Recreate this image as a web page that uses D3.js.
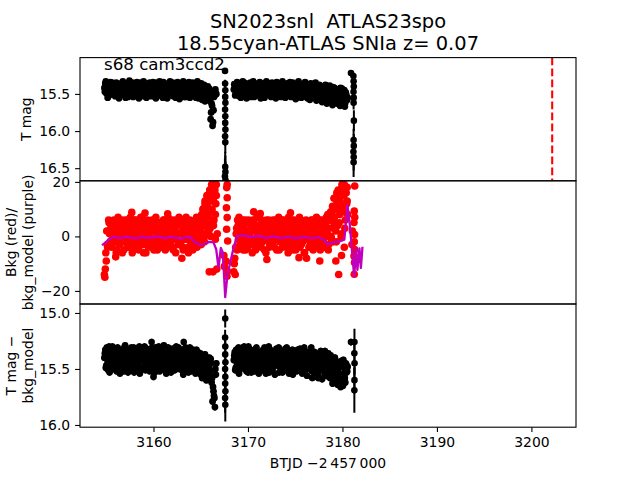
<!DOCTYPE html>
<html><head><meta charset="utf-8">
<script src="https://cdn.jsdelivr.net/npm/d3@7"></script>
<style>body{margin:0;background:#fff} text{font-family:"DejaVu Sans",sans-serif;fill:#000}</style>
</head><body><svg id="c" width="640" height="480" xmlns="http://www.w3.org/2000/svg"></svg>
<script>
// ---------------- DATA ----------------
const CADENCE = 0.1;               // days between samples in each array
const seg1Start = 3154.8;          // BTJD-2457000, first orbit
const seg2Start = 3168.5;          // second orbit
const HALF = 0.05;                 // the "b" arrays are sampled half a step later

// T mag, orbit 1 and 2
const tmagSeg1 = [
15.42,15.36,15.49,15.45,15.38,15.52,15.40,15.47,15.35,15.44,
15.50,15.39,15.46,15.41,15.53,15.37,15.48,15.43,15.36,15.51,
15.40,15.45,15.38,15.49,15.42,15.54,15.37,15.46,15.41,15.50,
15.35,15.44,15.48,15.39,15.52,15.43,15.37,15.47,15.41,15.50,
15.36,15.45,15.53,15.40,15.48,15.38,15.44,15.51,15.35,15.46,
15.42,15.49,15.37,15.53,15.41,15.46,15.39,15.50,15.43,15.36,
15.48,15.40,15.55,15.44,15.38,15.47,15.42,15.51,15.36,15.45,
15.49,15.39,15.46,15.53,15.41,15.37,15.48,15.43,15.52,15.40,
15.45,15.36,15.50,15.42,15.47,15.39,15.54,15.44,15.38,15.49,
15.41,15.46,15.36,15.52,15.43,15.48,15.40,15.55,15.45,15.38,
15.50,15.42,15.47,15.39,15.56,15.44,15.49,15.41,15.57,15.46,
15.52,15.43,15.60,15.75,15.66,15.88,15.54,15.46,15.50];
const tmagSeg1b = [
15.47,15.33,15.41,15.55,15.39,15.44,15.34,15.50,15.42,15.37,
15.45,15.53,15.35,15.48,15.40,15.56,15.43,15.38,15.51,15.33,
15.46,15.41,15.55,15.36,15.49,15.44,15.32,15.52,15.39,15.45,
15.54,15.37,15.42,15.49,15.34,15.46,15.56,15.40,15.35,15.47,
15.43,15.33,15.50,15.38,15.55,15.42,15.36,15.48,15.44,15.53,
15.38,15.34,15.46,15.41,15.56,15.35,15.52,15.45,15.33,15.48,
15.39,15.54,15.34,15.43,15.50,15.37,15.56,15.40,15.46,15.33,
15.52,15.44,15.35,15.49,15.38,15.55,15.42,15.34,15.47,15.57,
15.36,15.51,15.40,15.33,15.54,15.45,15.38,15.50,15.43,15.34,
15.55,15.39,15.48,15.35,15.44,15.52,15.37,15.46,15.33,15.56,
15.41,15.54,15.36,15.58,15.45,15.38,15.60,15.43,15.52,15.40,
15.55,15.47,15.84,15.63,15.93,15.72,15.52,15.44,15.50];
const tmagSeg2 = [
15.44,15.38,15.50,15.41,15.47,15.36,15.53,15.43,15.39,15.48,
15.45,15.35,15.51,15.42,15.46,15.38,15.49,15.44,15.54,15.40,
15.37,15.47,15.42,15.52,15.39,15.45,15.36,15.50,15.43,15.48,
15.41,15.53,15.38,15.46,15.44,15.35,15.49,15.42,15.51,15.37,
15.47,15.40,15.45,15.52,15.38,15.43,15.50,15.36,15.48,15.41,
15.54,15.44,15.39,15.47,15.42,15.51,15.37,15.46,15.40,15.49,
15.43,15.36,15.52,15.45,15.41,15.48,15.38,15.55,15.44,15.40,
15.50,15.42,15.46,15.37,15.53,15.43,15.48,15.39,15.56,15.45,
15.41,15.51,15.38,15.47,15.44,15.54,15.40,15.49,15.43,15.57,
15.46,15.39,15.52,15.42,15.58,15.45,15.50,15.38,15.55,15.47,
15.60,15.43,15.53,15.49,15.58,15.41,15.62,15.47,15.56,15.44,
15.61,15.50,15.59,15.42,15.64,15.48,15.57,15.45,15.62,15.51,
15.58];
const tmagSeg2b = [
15.37,15.52,15.43,15.34,15.49,15.45,15.38,15.55,15.41,15.33,
15.50,15.42,15.36,15.56,15.47,15.39,15.53,15.35,15.44,15.48,
15.33,15.54,15.40,15.46,15.37,15.51,15.43,15.34,15.56,15.41,
15.49,15.36,15.55,15.42,15.33,15.50,15.45,15.38,15.47,15.54,
15.35,15.44,15.52,15.39,15.56,15.34,15.47,15.42,15.53,15.37,
15.45,15.33,15.50,15.38,15.55,15.43,15.36,15.52,15.46,15.34,
15.54,15.41,15.35,15.49,15.44,15.57,15.39,15.46,15.33,15.51,
15.40,15.55,15.37,15.48,15.43,15.34,15.53,15.45,15.38,15.50,
15.58,15.36,15.46,15.55,15.40,15.48,15.35,15.59,15.44,15.51,
15.38,15.56,15.45,15.61,15.42,15.50,15.57,15.40,15.63,15.47,
15.53,15.39,15.60,15.46,15.65,15.52,15.42,15.58,15.49,15.63,
15.45,15.56,15.66,15.50,15.43,15.60,15.54,15.67,15.48,15.58,
15.55];
const tmagErr = 0.03;
// short noisy stretches (orbit edges)
const streakT = [3167.57,3167.58,3167.60,3167.59,3167.61,3167.58,3167.60,3167.59,3167.61,3167.58,3167.60,3167.59,3167.61,3167.56,3167.62,
                 3180.90,3181.16,3181.18,3181.20,3181.17,3181.19,3181.18,3181.21,3181.18,3181.20,3181.16,3181.19,3181.18];
const streakMag = [15.19,15.36,15.45,15.54,15.62,15.71,15.80,15.89,15.98,16.07,16.15,16.48,16.55,16.61,16.66,
                   15.22,15.26,15.33,15.40,15.47,15.55,15.62,15.86,16.12,16.20,16.28,16.35,16.42];
const streakErr = [0.04,0.05,0.06,0.07,0.08,0.09,0.10,0.11,0.12,0.13,0.15,0.20,0.22,0.24,0.25,
                   0.04,0.05,0.06,0.06,0.07,0.08,0.09,0.14,0.15,0.16,0.17,0.18,0.20];

// Background flux (red)
const bkgSeg1 = [
-14,-12,-9,-3,2,5,-2,4,-4,3,
6,-1,1,-5,4,0,-3,5,2,-6,
3,-2,6,0,-4,2,5,-1,-3,4,
1,-5,6,-2,3,0,-4,5,-1,2,
7,-3,1,4,-6,3,-1,5,0,-2,
4,-4,2,6,-1,3,-5,1,5,-2,
0,4,-3,6,2,-1,3,-4,5,1,
-2,6,0,-5,3,2,-1,4,-3,7,
1,-2,5,-4,3,0,6,-1,2,-6,
4,1,-3,5,0,3,-2,6,-4,2,
5,-1,3,8,1,6,-2,9,4,11,
7,14,3,16,10,18,6,17,12];
const bkgSeg1b = [
-15,-6,2,-4,6,1,-3,5,-1,3,
-2,5,-6,2,7,-3,4,-1,6,0,
-5,4,1,-2,6,-4,3,7,-1,-6,
5,2,-3,6,-1,4,-5,1,7,-2,
3,-6,5,0,-2,6,-4,2,4,-1,
6,-2,-5,3,7,0,-3,5,-1,4,
-4,2,6,-2,-5,4,1,7,-3,3,
5,-1,-4,2,6,-6,4,1,-2,5,
-3,6,2,-5,4,-1,7,0,-4,3,
6,-2,3,-5,5,1,-3,7,0,-1,
3,7,-3,5,10,0,12,4,8,14,
2,16,9,19,5,13,18,-1,15];
const bkgSeg2 = [
-13,-8,-4,3,6,-1,4,-3,5,1,
-5,3,6,-2,2,-4,5,0,-1,4,
6,-3,2,-5,4,1,-2,7,0,-4,
3,5,-1,2,-6,4,0,6,-3,1,
5,-2,3,-4,6,1,-1,4,-5,2,
0,6,-3,3,-1,5,-4,2,7,-2,
4,0,-5,3,6,-1,2,-3,5,1,
-4,6,2,-2,4,-6,3,0,5,-1,
2,-3,6,1,-5,4,-1,3,0,5,
-2,6,-4,2,4,-1,5,-3,7,1,
-5,3,6,0,8,-2,5,10,2,12,
4,15,8,17,1,18,11,19,6,16,
13];
const bkgSeg2b = [
-10,-14,1,-5,4,7,-2,3,-4,6,
2,-1,-5,5,-3,6,1,-2,4,-6,
3,5,-1,-4,7,0,4,-3,2,6,
-2,1,-5,4,6,-1,3,-4,5,0,
-3,6,2,-1,5,-5,3,7,-2,1,
4,-4,6,0,-2,5,2,-6,3,4,
-1,6,-3,2,5,-5,4,1,-2,7,
0,-3,5,3,-6,2,6,-1,4,-4,
5,1,-2,6,-4,3,0,7,-3,2,
4,-5,1,6,-2,3,-4,5,0,8,
-3,6,9,-1,11,3,7,14,-2,10,
17,5,13,0,19,9,15,3,18,12,
8];
const bkgExtraT = [3165.05,3165.25,3165.45,3165.55,3165.65,3165.75,3165.85,3165.95,3166.05,3166.15,3166.25,3166.35,3166.45,3166.55,3166.65,3166.75,3166.30,3165.90,3166.70,
                   3167.80,3167.75,3167.80,3167.72,3167.80,3167.74,3167.85,3167.70,3167.82,3167.78,3167.45,3167.50,
                   3179.60,3179.30,3179.90,3180.20,3179.10,3179.40,3179.80,3180.00,3180.30,3180.50,
                   3181.30,3181.25,3181.30,3181.22,3181.28,3181.25,3181.30,3181.22,3181.28,3181.25,3181.00,3181.05,
                   3156.00,3159.10,3163.00,3161.50,3157.70,3170.60,3172.00,3174.50,3176.20,3177.60,3171.30,3175.40];
const bkgExtraV = [7,10,13,5,15,2,9,17,0,13,19,4,15,8,19,1,-13,-13,-12,
                   19,17.9,14.2,10.5,6.9,2.6,-1.7,-9.1,-12.7,-14.6,-7,-11,
                   -14,-9,-7,-4,14,16,12,19,9,18,
                   18.5,9.3,7,5.1,0.7,-2,-4.8,-7.2,-9.6,-13.9,-3,2,
                   -7.5,8.6,-8,8.3,8.8,9,-8.5,8.7,-8,-9,8.4,-7.8];
// Background model (purple)
const modelT = [3154.54,3154.90,3155.24,3155.77,3156.50,3157.20,3158.00,3158.80,3159.60,3160.40,3161.20,3162.00,3162.80,3163.50,3163.88,
                3164.23,3164.94,3165.47,3165.90,3166.35,3166.64,3166.88,3167.13,3167.34,3167.59,3167.83,3168.40,3168.82,3169.52,
                3170.30,3171.10,3171.90,3172.70,3173.50,3174.30,3175.10,3175.90,3176.70,3177.40,3177.99,3178.41,3179.00,3179.76,
                3180.20,3180.53,3180.81,3181.24,3181.45,3181.58,3181.80,3181.95,3182.12];
const modelV = [-3.2,-2.4,-1.1,-0.2,-0.6,-0.1,-0.7,-0.2,-0.5,0.0,-0.6,-0.2,-0.8,-0.3,-0.2,
                -1.7,-3.2,-2.7,-2.0,-2.2,-4.8,-11.5,-4.2,-6.0,-22.3,-14.0,-5.4,0.1,0.5,
                -0.3,0.2,-0.5,0.0,-0.6,-0.1,-0.7,-0.2,-0.6,-0.3,-1.1,-2.9,-2.2,-1.7,
                -1.2,11.5,3.2,-14.8,-4.4,-12.3,-4.4,-11.6,-3.8];

// T mag - bkg_model
const corrSeg1 = [
15.40,15.33,15.47,15.38,15.51,15.30,15.44,15.36,15.49,15.42,
15.34,15.46,15.39,15.52,15.31,15.43,15.48,15.35,15.41,15.50,
15.37,15.45,15.29,15.47,15.40,15.53,15.33,15.44,15.38,15.49,
15.42,15.31,15.46,15.36,15.51,15.39,15.44,15.30,15.48,15.41,
15.35,15.50,15.43,15.37,15.47,15.32,15.45,15.40,15.52,15.34,
15.46,15.39,15.57,15.42,15.31,15.49,15.36,15.44,15.38,15.51,
15.33,15.47,15.41,15.29,15.45,15.50,15.37,15.43,15.35,15.48,
15.40,15.52,15.32,15.46,15.39,15.44,15.30,15.49,15.42,15.36,
15.47,15.34,15.51,15.41,15.38,15.45,15.31,15.48,15.43,15.53,
15.37,15.44,15.40,15.50,15.33,15.46,15.39,15.52,15.42,15.35,
15.48,15.41,15.55,15.38,15.46,15.57,15.43,15.51,15.60,15.45,
15.47,15.40,15.52,15.45,15.58,15.66,15.74,15.84,15.55];
const corrSeg1b = [
15.36,15.49,15.31,15.44,15.41,15.53,15.35,15.46,15.30,15.39,
15.50,15.37,15.43,15.32,15.47,15.40,15.54,15.33,15.45,15.38,
15.52,15.30,15.42,15.35,15.48,15.37,15.50,15.41,15.31,15.46,
15.34,15.53,15.39,15.45,15.32,15.48,15.36,15.54,15.40,15.33,
15.49,15.42,15.30,15.51,15.38,15.46,15.34,15.43,15.36,15.50,
15.31,15.44,15.39,15.53,15.35,15.47,15.41,15.30,15.52,15.37,
15.45,15.34,15.50,15.40,15.36,15.54,15.42,15.31,15.47,15.39,
15.53,15.33,15.45,15.38,15.51,15.35,15.48,15.42,15.31,15.50,
15.39,15.46,15.33,15.55,15.36,15.43,15.50,15.34,15.41,15.47,
15.31,15.52,15.45,15.36,15.48,15.40,15.54,15.33,15.47,15.42,
15.53,15.36,15.45,15.58,15.41,15.50,15.37,15.56,15.44,15.52,
15.48,15.56,15.41,15.62,15.79,15.70,15.76,15.50,15.45];
const corrSeg2 = [
15.42,15.35,15.49,15.38,15.45,15.31,15.51,15.40,15.34,15.47,
15.43,15.30,15.50,15.37,15.44,15.53,15.39,15.46,15.33,15.48,
15.41,15.36,15.52,15.44,15.31,15.47,15.39,15.50,15.35,15.42,
15.48,15.33,15.45,15.40,15.54,15.37,15.43,15.30,15.49,15.41,
15.36,15.51,15.44,15.39,15.47,15.32,15.46,15.42,15.53,15.38,
15.45,15.34,15.50,15.41,15.37,15.48,15.31,15.44,15.40,15.52,
15.39,15.46,15.33,15.49,15.42,15.36,15.51,15.43,15.38,15.47,
15.32,15.45,15.40,15.53,15.37,15.48,15.41,15.35,15.50,15.44,
15.39,15.46,15.31,15.52,15.42,15.57,15.37,15.49,15.43,15.55,
15.40,15.47,15.34,15.51,15.44,15.38,15.56,15.45,15.41,15.53,
15.36,15.49,15.58,15.43,15.52,15.47,15.61,15.40,15.55,15.50,
15.64,15.44,15.57,15.66,15.48,15.60,15.42,15.54,15.62,15.46,
15.52];
const corrSeg2b = [
15.38,15.51,15.33,15.46,15.41,15.54,15.36,15.44,15.49,15.31,
15.47,15.39,15.35,15.52,15.42,15.30,15.48,15.37,15.53,15.40,
15.34,15.50,15.45,15.32,15.49,15.38,15.54,15.43,15.36,15.51,
15.39,15.46,15.31,15.52,15.35,15.47,15.41,15.53,15.33,15.44,
15.50,15.37,15.42,15.55,15.34,15.45,15.39,15.31,15.48,15.43,
15.36,15.53,15.40,15.47,15.32,15.51,15.44,15.38,15.54,15.35,
15.48,15.41,15.55,15.34,15.45,15.39,15.52,15.33,15.46,15.42,
15.50,15.37,15.54,15.43,15.31,15.47,15.40,15.56,15.36,15.49,
15.44,15.33,15.51,15.38,15.47,15.35,15.53,15.45,15.40,15.58,
15.36,15.50,15.44,15.59,15.39,15.48,15.34,15.55,15.46,15.41,
15.57,15.45,15.38,15.52,15.63,15.42,15.49,15.56,15.44,15.60,
15.51,15.47,15.62,15.43,15.55,15.65,15.49,15.58,15.45,15.53,
15.48];
const corrErr = 0.03;
const corrStreakT = [3167.59,3167.58,3167.60,3167.59,3167.61,3167.58,3167.60,3167.59,3167.61,3167.58,3167.60,
                     3180.90,3181.27,3181.26,3181.28,3181.27,3181.26,
                     3163.20,3159.80,3176.80];
const corrStreakMag = [15.05,15.22,15.30,15.37,15.44,15.50,15.57,15.63,15.70,15.76,15.82,
                       15.26,15.26,15.36,15.45,15.60,15.69,
                       15.26,15.26,15.58];
const corrStreakErr = [0.08,0.07,0.07,0.08,0.08,0.09,0.10,0.11,0.12,0.13,0.15,
                       0.03,0.12,0.10,0.10,0.12,0.20,
                       0.03,0.03,0.03];

const discoveryT = 3202.2;
const xTicks = [3160,3170,3180,3190,3200];
const topTicks = [15.5,16.0,16.5];
const midTicks = [20,0,-20];
const botTicks = [15.0,15.5,16.0];
const titleLines = ["SN2023snl\u00a0 ATLAS23spo","18.55cyan-ATLAS SNIa z= 0.07"];
const sectorLabel = "s68 cam3ccd2";

// ---------------- DRAWING ----------------
const svg = d3.select("#c");
const L = 80, R = 576;
const P = [[57.6,180.8],[180.8,304],[304,427.2]];
const x = d3.scaleLinear().domain([3152.22,3204.72]).range([L,R]);
const yTop = d3.scaleLinear().domain([15.011,16.67]).range(P[0]);
const yMid = d3.scaleLinear().domain([20.4,-24.8]).range(P[1]);
const yBot = d3.scaleLinear().domain([14.92,16.02]).range(P[2]);

const seg = (start, arr) => arr.map((v,i)=>({t:start+i*CADENCE, v}));
const pairs = (ts, vs, es) => ts.map((t,i)=>({t, v:vs[i], e: es ? es[i] : 0}));

const defs = svg.append("defs");
P.forEach((p,i)=>{
  defs.append("clipPath").attr("id","clip"+i).append("rect")
    .attr("x",L).attr("y",p[0]).attr("width",R-L).attr("height",p[1]-p[0]);
});

function errPoints(g, data, y, err, r, color){
  g.selectAll(null).data(data).enter().append("line")
    .attr("x1",d=>x(d.t)).attr("x2",d=>x(d.t))
    .attr("y1",d=>y(d.v-(d.e||err))).attr("y2",d=>y(d.v+(d.e||err)))
    .attr("stroke",color).attr("stroke-width",2);
  g.selectAll(null).data(data).enter().append("circle")
    .attr("cx",d=>x(d.t)).attr("cy",d=>y(d.v)).attr("r",r).attr("fill",color);
}

// top panel
const g0 = svg.append("g").attr("clip-path","url(#clip0)");
const topData = seg(seg1Start,tmagSeg1).concat(seg(seg1Start+HALF,tmagSeg1b), seg(seg2Start,tmagSeg2), seg(seg2Start+HALF,tmagSeg2b));
errPoints(g0, topData, yTop, tmagErr, 3.4, "#000");
errPoints(g0, pairs(streakT,streakMag,streakErr), yTop, 0, 3.3, "#000");
g0.append("line").attr("x1",x(discoveryT)).attr("x2",x(discoveryT))
  .attr("y1",P[0][0]).attr("y2",P[0][1])
  .attr("stroke","#ff0000").attr("stroke-width",2.08).attr("stroke-dasharray","7.7,3.3");

// middle panel
const g1 = svg.append("g").attr("clip-path","url(#clip1)");
const red = seg(seg1Start,bkgSeg1).concat(seg(seg1Start+HALF,bkgSeg1b), seg(seg2Start,bkgSeg2), seg(seg2Start+HALF,bkgSeg2b), pairs(bkgExtraT,bkgExtraV));
g1.selectAll(null).data(red).enter().append("circle")
  .attr("cx",d=>x(d.t)).attr("cy",d=>yMid(d.v)).attr("r",3.8).attr("fill","#ff0000");
g1.append("path").datum(pairs(modelT,modelV))
  .attr("d",d3.line().x(d=>x(d.t)).y(d=>yMid(d.v)))
  .attr("fill","none").attr("stroke","#bf00bf").attr("stroke-width",2.3).attr("stroke-linejoin","round");

// bottom panel
const g2 = svg.append("g").attr("clip-path","url(#clip2)");
const botData = seg(seg1Start,corrSeg1).concat(seg(seg1Start+HALF,corrSeg1b), seg(seg2Start,corrSeg2), seg(seg2Start+HALF,corrSeg2b));
errPoints(g2, botData, yBot, corrErr, 3.4, "#000");
errPoints(g2, pairs(corrStreakT,corrStreakMag,corrStreakErr), yBot, 0, 3.3, "#000");

// frames + axes
const FS = "13.9px";
function yAxis(scale, ticks, fmt){
  const a = svg.append("g").attr("transform",`translate(${L},0)`)
    .call(d3.axisLeft(scale).tickValues(ticks).tickSize(4.9).tickPadding(4.9).tickFormat(fmt));
  a.select(".domain").remove();
  a.selectAll("line").attr("stroke","#000").attr("stroke-width",1.1);
  a.selectAll("text").attr("font-size",FS).attr("font-family","DejaVu Sans").attr("fill","#000");
}
yAxis(yTop, topTicks, d3.format(".1f"));
yAxis(yMid, midTicks, d3.format("d"));
yAxis(yBot, botTicks, d3.format(".1f"));
const xa = svg.append("g").attr("transform",`translate(0,${P[2][1]})`)
  .call(d3.axisBottom(x).tickValues(xTicks).tickSize(4.9).tickPadding(4.9).tickFormat(d3.format("d")));
xa.select(".domain").remove();
xa.selectAll("line").attr("stroke","#000").attr("stroke-width",1.1);
xa.selectAll("text").attr("font-size",FS).attr("font-family","DejaVu Sans").attr("fill","#000");

P.forEach(p=>{
  svg.append("rect").attr("x",L).attr("y",p[0]).attr("width",R-L).attr("height",p[1]-p[0])
    .attr("fill","none").attr("stroke","#000").attr("stroke-width",1.1);
});

// texts
const cx = (L+R)/2;
svg.append("text").attr("x",cx).attr("y",28).attr("text-anchor","middle").attr("font-size","19.44px").text(titleLines[0]);
svg.append("text").attr("x",cx).attr("y",50).attr("text-anchor","middle").attr("font-size","19.44px").text(titleLines[1]);
svg.append("text").attr("x",104).attr("y",69.5).attr("font-size","16.67px").text(sectorLabel);
svg.append("text").attr("x",cx).attr("y",468).attr("text-anchor","middle").attr("font-size",FS).text("BTJD \u22122\u2009457\u2009000");

function yLabel(lines, xs, yc){
  lines.forEach((s,i)=>{
    svg.append("text").attr("transform",`translate(${xs[i]},${yc}) rotate(-90)`)
      .attr("text-anchor","middle").attr("dominant-baseline","central")
      .attr("font-size",FS).text(s);
  });
}
yLabel(["T mag"],[26],(P[0][0]+P[0][1])/2);
yLabel(["Bkg (red)/","bkg_model (purple)"],[11,28],(P[1][0]+P[1][1])/2);
yLabel(["T mag \u2212","bkg_model"],[11,28],(P[2][0]+P[2][1])/2);
</script>
</body></html>
